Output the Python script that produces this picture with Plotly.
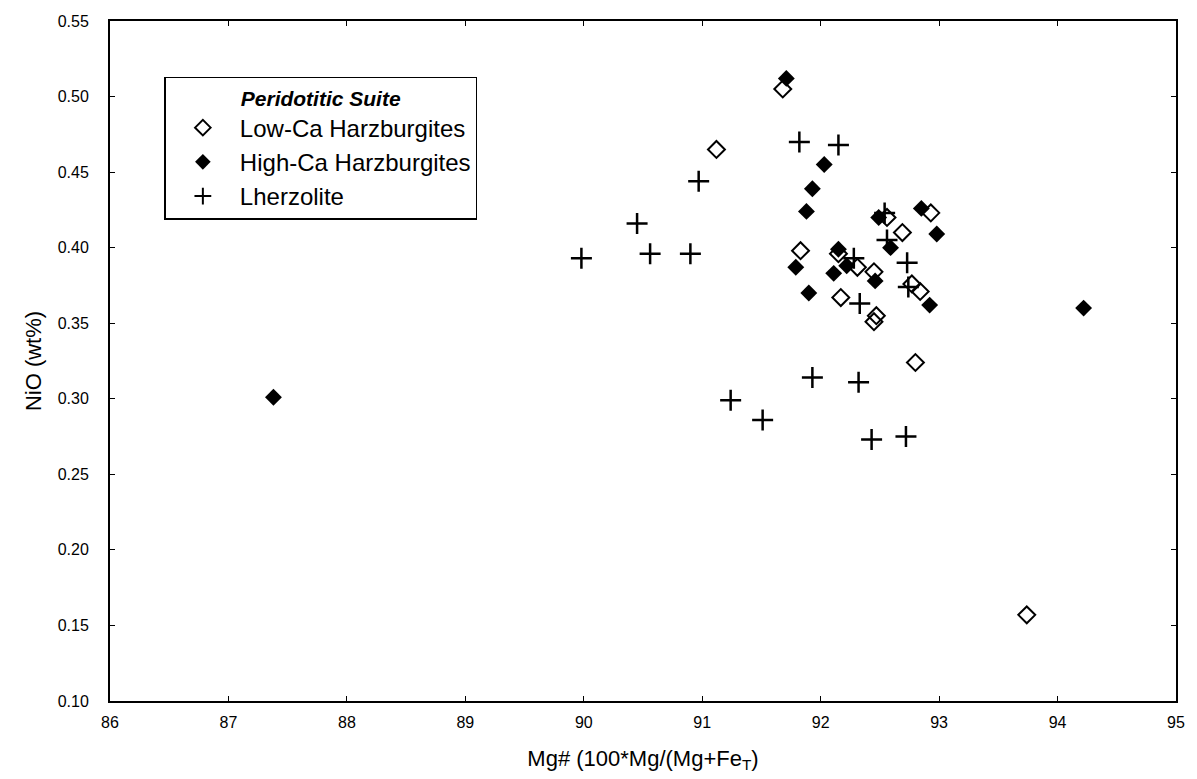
import plotly.graph_objects as go

# Peridotitic suite: Mg# vs NiO (wt%)
low_ca_mg = [91.68, 91.12, 92.56, 92.93, 92.69, 91.83, 92.15, 92.31, 92.45, 92.77,
             92.84, 92.17, 92.47, 92.45, 92.80, 93.74]
low_ca_nio = [0.505, 0.465, 0.420, 0.423, 0.410, 0.398, 0.396, 0.387, 0.384, 0.376,
              0.371, 0.367, 0.355, 0.351, 0.324, 0.157]

high_ca_mg = [91.71, 92.03, 91.93, 91.88, 92.49, 92.85, 92.98, 92.59, 92.15, 91.79,
              92.22, 92.11, 92.46, 91.90, 92.92, 94.22, 87.38]
high_ca_nio = [0.512, 0.455, 0.439, 0.424, 0.420, 0.426, 0.409, 0.400, 0.399, 0.387,
               0.388, 0.383, 0.378, 0.370, 0.362, 0.360, 0.301]

lherz_mg = [91.82, 92.15, 90.97, 90.45, 89.98, 90.56, 90.90, 92.54, 92.56, 92.28,
            92.73, 92.74, 92.33, 91.93, 92.32, 91.24, 91.51, 92.43, 92.72]
lherz_nio = [0.470, 0.468, 0.444, 0.416, 0.393, 0.396, 0.396, 0.423, 0.405, 0.393,
             0.390, 0.374, 0.363, 0.314, 0.311, 0.299, 0.286, 0.273, 0.275]

x_ticks = [86, 87, 88, 89, 90, 91, 92, 93, 94, 95]
y_ticks = [0.10, 0.15, 0.20, 0.25, 0.30, 0.35, 0.40, 0.45, 0.50, 0.55]

FONT = "Liberation Sans, Arial, sans-serif"

fig = go.Figure()
fig.add_trace(go.Scatter(
    x=low_ca_mg, y=low_ca_nio, mode="markers", name="Low-Ca Harzburgites",
    marker=dict(symbol="diamond-open", size=13, color="black", line=dict(width=2, color="black")),
))
fig.add_trace(go.Scatter(
    x=high_ca_mg, y=high_ca_nio, mode="markers", name="High-Ca Harzburgites",
    marker=dict(symbol="diamond", size=13, color="black", line=dict(width=0)),
))
fig.add_trace(go.Scatter(
    x=lherz_mg, y=lherz_nio, mode="markers", name="Lherzolite",
    marker=dict(symbol="cross-thin", size=15, color="black", line=dict(width=2.5, color="black")),
))

axis_common = dict(
    showline=True, linecolor="black", linewidth=2, mirror="ticks",
    ticks="inside", ticklen=5, tickwidth=1, tickcolor="black",
    showgrid=False, zeroline=False,
    tickfont=dict(family=FONT, size=16, color="black"),
)

fig.update_xaxes(
    range=[86, 95], tickvals=x_ticks, ticktext=[str(v) for v in x_ticks],
    title=dict(text="Mg# (100*Mg/(Mg+Fe<sub>T</sub>)", font=dict(family=FONT, size=22, color="black"), standoff=20),
    ticklabelstandoff=6,
    **axis_common,
)
fig.update_yaxes(
    range=[0.10, 0.55], tickvals=y_ticks, tickformat=".2f",
    title=dict(text="NiO (wt%)", font=dict(family=FONT, size=22, color="black"), standoff=10),
    ticklabelstandoff=16,
    **axis_common,
)

fig.update_layout(
    width=1197, height=779,
    margin=dict(l=110, r=14, t=21, b=77),
    paper_bgcolor="white", plot_bgcolor="white",
    font=dict(family=FONT, color="black"),
    legend=dict(
        title=dict(text="<b><i>Peridotitic Suite</i></b>", font=dict(family=FONT, size=21, color="black"), side="top center"),
        x=0.051, y=0.918, xanchor="left", yanchor="top",
        bordercolor="black", borderwidth=1.5, bgcolor="white",
        font=dict(family=FONT, size=24, color="black"),
        itemsizing="constant", itemwidth=64, tracegroupgap=4,
    ),
)

fig.write_html("out.html")
